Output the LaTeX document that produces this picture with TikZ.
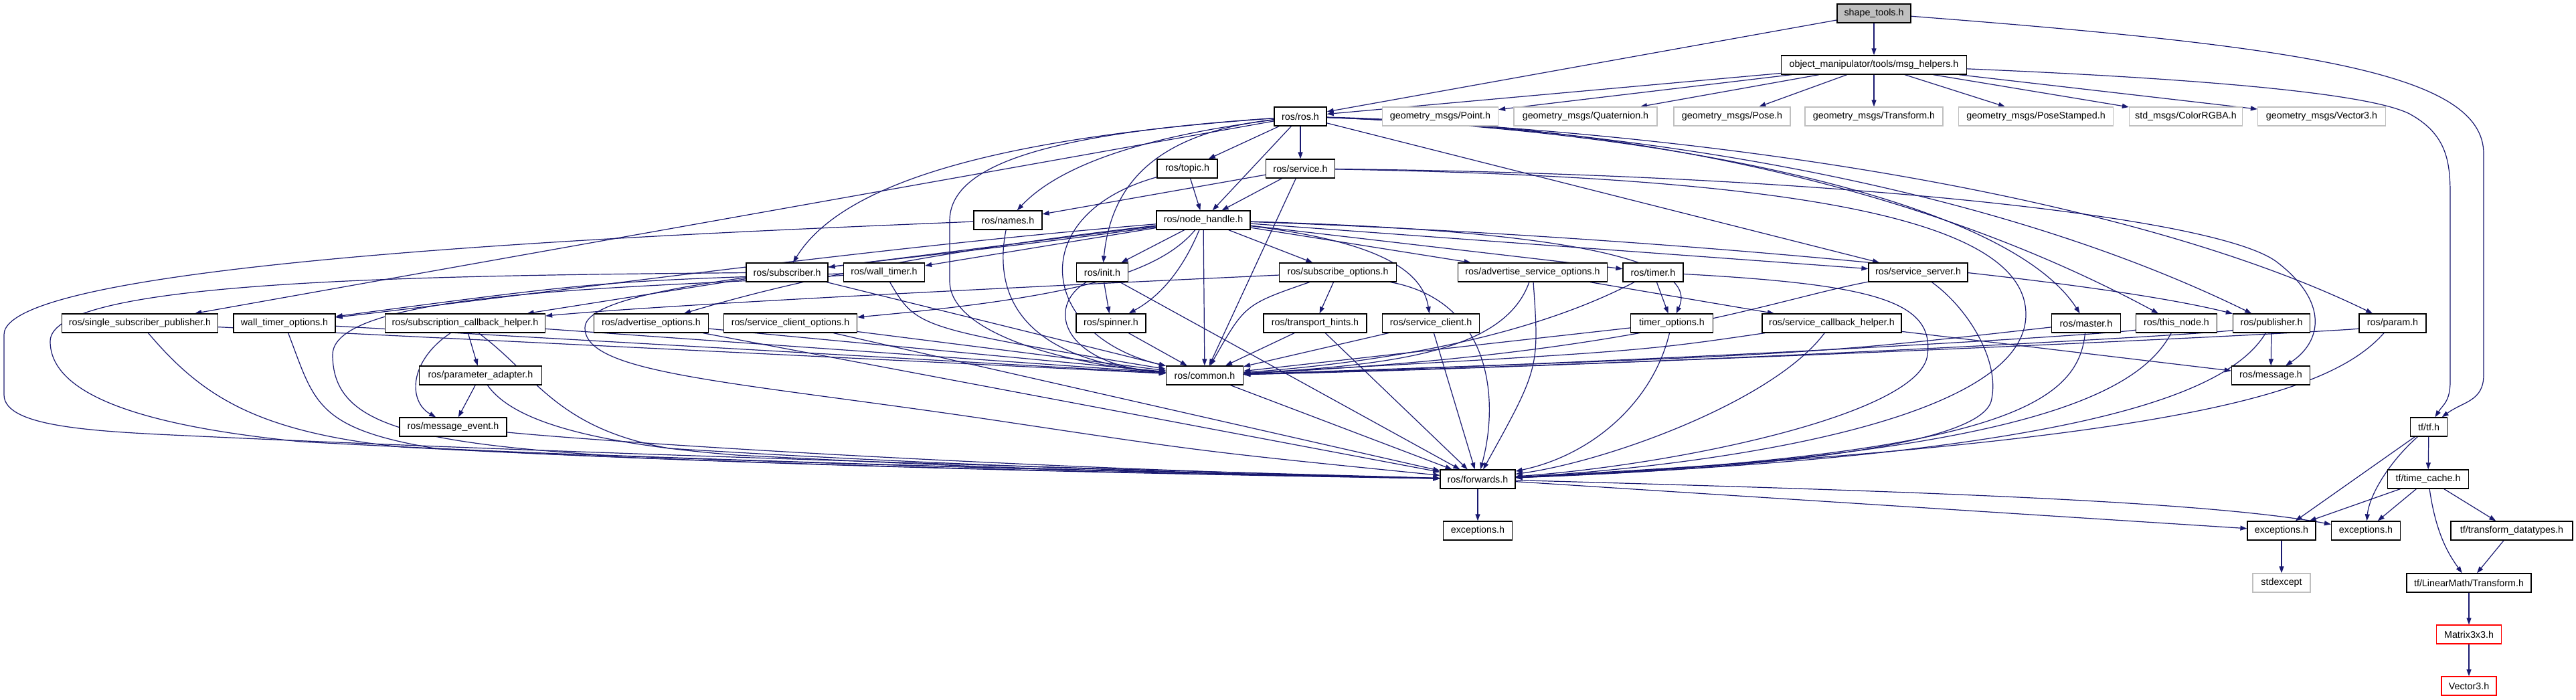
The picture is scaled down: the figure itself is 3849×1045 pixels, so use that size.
\documentclass[tikz,border=0pt]{standalone}
\usepackage{fontspec}
\setmainfont{Liberation Sans}
\usetikzlibrary{arrows.meta}
\definecolor{edgec}{HTML}{191970}
\definecolor{extc}{HTML}{BFBFBF}
\pgfdeclarelayer{bg}
\pgfsetlayers{bg,main}
\begin{document}
\begin{tikzpicture}[x=1pt,y=-1pt,
  box/.style={draw=black,line width=1.3pt,fill=white,minimum height=28pt,inner sep=0pt,font=\fontsize{14.3}{16}\selectfont},
  extbox/.style={box,draw=extc},
  redbox/.style={box,draw=red},
  rootbox/.style={box,fill=extc},
  edge/.style={draw=edgec,line width=1.2pt,-{Triangle[length=10pt,width=7pt]}},
]
\useasboundingbox (0,0) rectangle (3849,1045);
% ---------- nodes ----------
\node[rootbox,minimum width=110pt] (shape) at (2800,20) {shape\_tools.h};
\node[box,minimum width=277pt] (msg) at (2800,97) {object\_manipulator/tools/msg\_helpers.h};
\node[box,minimum width=78pt] (ros) at (1943,174) {ros/ros.h};
\node[extbox,minimum width=173pt] (point) at (2152,174) {geometry\_msgs/Point.h};
\node[extbox,minimum width=214pt] (quat) at (2369,174) {geometry\_msgs/Quaternion.h};
\node[extbox,minimum width=174pt] (pose) at (2588,174) {geometry\_msgs/Pose.h};
\node[extbox,minimum width=206pt] (transf) at (2800,174) {geometry\_msgs/Transform.h};
\node[extbox,minimum width=231pt] (posest) at (3042,174) {geometry\_msgs/PoseStamped.h};
\node[extbox,minimum width=169pt] (color) at (3266,174) {std\_msgs/ColorRGBA.h};
\node[extbox,minimum width=191pt] (vecm) at (3469,174) {geometry\_msgs/Vector3.h};
\node[box,minimum width=90pt] (topic) at (1774,252) {ros/topic.h};
\node[box,minimum width=103pt] (service) at (1943,252) {ros/service.h};
\node[box,minimum width=102pt] (names) at (1506,329) {ros/names.h};
\node[box,minimum width=140pt] (nh) at (1798,329) {ros/node\_handle.h};
\node[box,minimum width=122pt] (subscriber) at (1176,407) {ros/subscriber.h};
\node[box,minimum width=121pt] (walltimer) at (1321,407) {ros/wall\_timer.h};
\node[box,minimum width=77pt] (init) at (1647,407) {ros/init.h};
\node[box,minimum width=175pt] (subopts) at (1999,407) {ros/subscribe\_options.h};
\node[box,minimum width=223pt] (advsrvopts) at (2290,407) {ros/advertise\_service\_options.h};
\node[box,minimum width=90pt] (timer) at (2470,407) {ros/timer.h};
\node[box,minimum width=148pt] (srvserver) at (2866,407) {ros/service\_server.h};
\node[box,minimum width=233pt] (ssp) at (209,483) {ros/single\_subscriber\_publisher.h};
\node[box,minimum width=152pt] (wtopts) at (425,483) {wall\_timer\_options.h};
\node[box,minimum width=239pt] (subcb) at (695,483) {ros/subscription\_callback\_helper.h};
\node[box,minimum width=171pt] (advopts) at (973,483) {ros/advertise\_options.h};
\node[box,minimum width=199pt] (srvcliopts) at (1181,483) {ros/service\_client\_options.h};
\node[box,minimum width=104pt] (spinner) at (1660,483) {ros/spinner.h};
\node[box,minimum width=154pt] (thints) at (1965,483) {ros/transport\_hints.h};
\node[box,minimum width=145pt] (srvclient) at (2138,483) {ros/service\_client.h};
\node[box,minimum width=123pt] (timeropts) at (2498,483) {timer\_options.h};
\node[box,minimum width=208pt] (srvcb) at (2737,483) {ros/service\_callback\_helper.h};
\node[box,minimum width=103pt] (master) at (3117,483) {ros/master.h};
\node[box,minimum width=121pt] (thisnode) at (3252,483) {ros/this\_node.h};
\node[box,minimum width=115pt] (publisher) at (3394,483) {ros/publisher.h};
\node[box,minimum width=100pt] (param) at (3575,483) {ros/param.h};
\node[box,minimum width=183pt] (paramadapt) at (718,561) {ros/parameter\_adapter.h};
\node[box,minimum width=115pt] (common) at (1800,561) {ros/common.h};
\node[box,minimum width=117pt] (message) at (3393,561) {ros/message.h};
\node[box,minimum width=160pt] (msgevent) at (677,638) {ros/message\_event.h};
\node[box,minimum width=55pt] (tf) at (3629,638) {tf/tf.h};
\node[box,minimum width=112pt] (forwards) at (2208,716) {ros/forwards.h};
\node[box,minimum width=121pt] (timecache) at (3628,716) {tf/time\_cache.h};
\node[box,minimum width=103pt] (excA) at (2208,793) {exceptions.h};
\node[box,minimum width=102pt] (excB) at (3409,793) {exceptions.h};
\node[box,minimum width=103pt] (excC) at (3535,793) {exceptions.h};
\node[box,minimum width=182pt] (tfdt) at (3753,793) {tf/transform\_datatypes.h};
\node[extbox,minimum width=86pt] (stdexc) at (3409,871) {stdexcept};
\node[box,minimum width=186pt] (lmtrans) at (3689,871) {tf/LinearMath/Transform.h};
\node[redbox,minimum width=97pt] (matrix) at (3689,948) {Matrix3x3.h};
\node[redbox,minimum width=82pt] (vecthree) at (3689,1025) {Vector3.h};
% ---------- edges ----------
\begin{pgfonlayer}{bg}
\fill[white] (0,0) rectangle (3849,1045);
% shape_tools.h
\draw[edge] (shape) -- (msg);
\draw[edge] (shape) -- (ros);
\draw[edge] (shape) .. controls (3450,70) and (3711,110) .. (3711,230) -- (3711,560) .. controls (3711,600) and (3680,600) .. (tf);
% msg_helpers.h
\draw[edge] (msg) -- (ros);
\draw[edge] (msg) -- (point);
\draw[edge] (msg) -- (quat);
\draw[edge] (msg) -- (pose);
\draw[edge] (msg) -- (transf);
\draw[edge] (msg) -- (posest);
\draw[edge] (msg) -- (color);
\draw[edge] (msg) -- (vecm);
\draw[edge] (msg) .. controls (3300,118) and (3540,140) .. (3600,170) .. controls (3655,200) and (3661,240) .. (3661,290) -- (3661,570) .. controls (3661,600) and (3650,605) .. (tf);
% ros.h
\draw[edge] (ros) -- (topic);
\draw[edge] (ros) -- (service);
\draw[edge] (ros) .. controls (1700,205) and (1580,250) .. (names);
\draw[edge] (ros) -- (nh);
\draw[edge] (ros) .. controls (1500,205) and (1260,270) .. (subscriber);
\draw[edge] (ros) .. controls (1550,200) and (1419,250) .. (1419,330) -- (1419,420) .. controls (1419,500) and (1600,545) .. (common);
\draw[edge] (ros) .. controls (1720,200) and (1660,280) .. (init);
\draw[edge] (ros) -- (ssp);
\draw[edge] (ros) -- (srvserver);
\draw[edge] (ros) .. controls (2500,195) and (3000,300) .. (master);
\draw[edge] (ros) .. controls (2550,190) and (2950,320) .. (thisnode);
\draw[edge] (ros) .. controls (2500,195) and (3000,290) .. (publisher);
\draw[edge] (ros) .. controls (2600,200) and (3200,300) .. (param);
% service.h / topic.h / names.h
\draw[edge] (service) -- (nh);
\draw[edge] (service) -- (names);
\draw[edge] (service) -- (common);
\draw[edge] (service) .. controls (2700,260) and (3300,320) .. (3400,390) .. controls (3480,450) and (3470,510) .. (message);
\draw[edge] (service) .. controls (2700,265) and (3027,330) .. (3027,470) .. controls (3027,640) and (2500,700) .. (forwards);
\draw[edge] (topic) -- (nh);
\draw[edge] (topic) .. controls (1530,320) and (1550,500) .. (common);
\draw[edge] (names) .. controls (1480,460) and (1550,540) .. (common);
\draw[edge] (names) .. controls (1000,350) and (6,390) .. (6,500) -- (6,590) .. controls (6,640) and (150,645) .. (300,652) .. controls (900,680) and (1700,702) .. (forwards);
% node_handle.h
\draw[edge] (nh) -- (subscriber);
\draw[edge] (nh) -- (walltimer);
\draw[edge] (nh) .. controls (1300,370) and (800,440) .. (wtopts);
\draw[edge] (nh) .. controls (1350,380) and (1150,430) .. (advopts);
\draw[edge] (nh) .. controls (1730,410) and (1600,445) .. (srvcliopts);
\draw[edge] (nh) .. controls (1760,420) and (1720,450) .. (spinner);
\draw[edge] (nh) -- (init);
\draw[edge] (nh) -- (common);
\draw[edge] (nh) -- (subopts);
\draw[edge] (nh) -- (advsrvopts);
\draw[edge] (nh) -- (timer);
\draw[edge] (nh) -- (srvserver);
\draw[edge] (nh) .. controls (2050,360) and (2125,400) .. (srvclient);
\draw[edge] (nh) .. controls (2350,345) and (2540,390) .. (timeropts);
\draw[edge] (nh) .. controls (2400,350) and (3100,410) .. (publisher);
\draw[edge] (nh) .. controls (1300,400) and (874,420) .. (874,490) .. controls (874,560) and (1100,570) .. (1500,630) .. controls (1800,675) .. (forwards);
% subscriber.h / wall_timer.h / init.h
\draw[edge] (subscriber) -- (subcb);
\draw[edge] (subscriber) -- (common);
\draw[edge] (subscriber) .. controls (600,412) and (75,420) .. (75,510) .. controls (75,600) and (250,640) .. (450,660) .. controls (1000,690) and (1700,705) .. (forwards);
\draw[edge] (walltimer) .. controls (900,420) .. (wtopts);
\draw[edge] (walltimer) .. controls (1370,490) .. (common);
\draw[edge] (walltimer) .. controls (1000,430) and (497,430) .. (497,530) .. controls (497,630) and (600,660) .. (900,680) .. controls (1300,695) and (1800,708) .. (forwards);
\draw[edge] (init) -- (spinner);
\draw[edge] (init) .. controls (1560,460) and (1590,545) .. (common);
\draw[edge] (init) -- (forwards);
% subscribe_options.h / advertise_service_options.h / timer.h / service_server.h
\draw[edge] (subopts) -- (thints);
\draw[edge] (subopts) .. controls (1500,430) and (1000,455) .. (subcb);
\draw[edge] (subopts) .. controls (1860,455) .. (common);
\draw[edge] (subopts) .. controls (2230,450) and (2240,600) .. (forwards);
\draw[edge] (advsrvopts) -- (srvcb);
\draw[edge] (advsrvopts) .. controls (2250,520) and (2100,545) .. (common);
\draw[edge] (advsrvopts) .. controls (2300,550) .. (forwards);
\draw[edge] (timer) -- (timeropts);
\draw[edge] (timer) .. controls (2330,480) and (2150,535) .. (common);
\draw[edge] (timer) .. controls (2800,425) and (2890,450) .. (2880,530) .. controls (2870,620) and (2500,695) .. (forwards);
\draw[edge] (srvserver) .. controls (2640,450) and (2450,530) .. (common);
\draw[edge] (srvserver) .. controls (2940,460) and (2990,540) .. (2975,600) .. controls (2950,680) and (2500,705) .. (forwards);
% row of leaves
\draw[edge] (ssp) -- (common);
\draw[edge] (ssp) .. controls (300,590) and (380,645) .. (600,668) .. controls (1100,695) and (1700,707) .. (forwards);
\draw[edge] (wtopts) -- (common);
\draw[edge] (wtopts) .. controls (470,600) and (470,640) .. (650,670) .. controls (1100,695) and (1700,708) .. (forwards);
\draw[edge] (subcb) -- (paramadapt);
\draw[edge] (subcb) .. controls (610,540) and (610,600) .. (msgevent);
\draw[edge] (subcb) -- (common);
\draw[edge] (subcb) .. controls (800,560) and (830,640) .. (1000,670) .. controls (1400,695) and (1800,708) .. (forwards);
\draw[edge] (advopts) -- (common);
\draw[edge] (advopts) -- (forwards);
\draw[edge] (srvcliopts) -- (common);
\draw[edge] (srvcliopts) -- (forwards);
\draw[edge] (spinner) -- (common);
\draw[edge] (thints) -- (common);
\draw[edge] (thints) -- (forwards);
\draw[edge] (srvclient) -- (common);
\draw[edge] (srvclient) -- (forwards);
\draw[edge] (timeropts) -- (common);
\draw[edge] (timeropts) .. controls (2470,600) and (2380,680) .. (forwards);
\draw[edge] (srvcb) .. controls (2450,525) .. (common);
\draw[edge] (srvcb) .. controls (2650,600) and (2400,690) .. (forwards);
\draw[edge] (srvcb) -- (message);
\draw[edge] (master) .. controls (2700,530) .. (common);
\draw[edge] (master) .. controls (3105,600) and (3000,680) .. (forwards);
\draw[edge] (thisnode) .. controls (3150,500) and (2500,540) .. (common);
\draw[edge] (thisnode) .. controls (3200,580) and (3050,680) .. (forwards);
\draw[edge] (publisher) -- (message);
\draw[edge] (publisher) .. controls (3300,500) and (2500,545) .. (common);
\draw[edge] (publisher) .. controls (3330,590) and (3100,680) .. (forwards);
\draw[edge] (param) .. controls (3500,495) and (2600,540) .. (common);
\draw[edge] (param) .. controls (3480,590) and (3250,660) .. (forwards);
\draw[edge] (paramadapt) -- (msgevent);
\draw[edge] (paramadapt) .. controls (760,620) and (850,660) .. (1100,680) .. controls (1500,700) .. (forwards);
\draw[edge] (msgevent) .. controls (900,660) and (1500,700) .. (forwards);
\draw[edge] (common) -- (forwards);
% forwards.h
\draw[edge] (forwards) -- (excA);
\draw[edge] (forwards) -- (excB);
\draw[edge] (forwards) .. controls (2900,735) and (3300,750) .. (excC);
% tf
\draw[edge] (tf) -- (timecache);
\draw[edge] (tf) -- (excB);
\draw[edge] (tf) .. controls (3570,690) and (3540,740) .. (excC);
\draw[edge] (timecache) -- (excB);
\draw[edge] (timecache) -- (excC);
\draw[edge] (timecache) -- (tfdt);
\draw[edge] (timecache) .. controls (3640,800) and (3660,830) .. (lmtrans);
\draw[edge] (tfdt) -- (lmtrans);
\draw[edge] (excB) -- (stdexc);
\draw[edge] (lmtrans) -- (matrix);
\draw[edge] (matrix) -- (vecthree);
\end{pgfonlayer}
\end{tikzpicture}
\end{document}
